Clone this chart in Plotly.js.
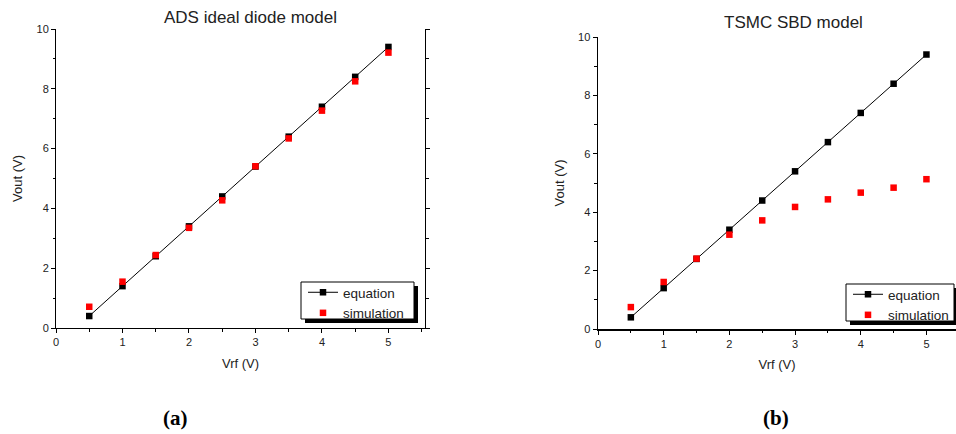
<!DOCTYPE html>
<html>
<head>
<meta charset="utf-8">
<script src="https://cdn.plot.ly/plotly-3.0.1.min.js"></script>
<style>html,body{margin:0;padding:0;background:#fff;}#chart{width:956px;height:434px;}</style>
</head>
<body>
<div id="chart"></div>
<script>
// Data
const vrf = [0.5, 1, 1.5, 2, 2.5, 3, 3.5, 4, 4.5, 5];
const eqA = [0.4, 1.4, 2.4, 3.4, 4.4, 5.4, 6.4, 7.4, 8.4, 9.4];
const simA = [0.71, 1.55, 2.44, 3.35, 4.27, 5.41, 6.34, 7.27, 8.25, 9.21];
const eqB = [0.4, 1.4, 2.4, 3.4, 4.4, 5.4, 6.4, 7.4, 8.4, 9.4];
const simB = [0.75, 1.61, 2.41, 3.23, 3.72, 4.18, 4.44, 4.67, 4.84, 5.13];
const titleA = "ADS ideal diode model";
const titleB = "TSMC SBD model";
const xTitle = "Vrf (V)";
const yTitle = "Vout (V)";
const seriesNames = ["equation", "simulation"];
const panelLabels = ["(a)", "(b)"];

const W = 956, H = 434;
const px = v => v / W;
const py = v => (H - v) / H;
const FONT = "Liberation Sans, Arial, sans-serif";
const TXT = "#222";

const mk = (c) => ({symbol: "square", size: 6.5, color: c, line: {width: 0}});

const traces = [
  {x: vrf, y: eqA, name: seriesNames[0], mode: "lines+markers", xaxis: "x", yaxis: "y",
   line: {color: "#000", width: 1}, marker: mk("#000"), legend: "legend"},
  {x: vrf, y: simA, name: seriesNames[1], mode: "markers", xaxis: "x", yaxis: "y",
   marker: mk("#ff0000"), legend: "legend"},
  {x: vrf, y: eqB, name: seriesNames[0], mode: "lines+markers", xaxis: "x2", yaxis: "y2",
   line: {color: "#000", width: 1}, marker: mk("#000"), legend: "legend2"},
  {x: vrf, y: simB, name: seriesNames[1], mode: "markers", xaxis: "x2", yaxis: "y2",
   marker: mk("#ff0000"), legend: "legend2"}
];

function xAx(domain, range, lw, anchor) {
  return {
    domain: domain, range: range, anchor: anchor, showgrid: false, zeroline: false,
    showline: true, linecolor: "#000", linewidth: lw,
    ticks: "outside", ticklen: 4, tickwidth: 1, tickcolor: "#000",
    tick0: 0, dtick: 1, tickfont: {family: FONT, size: 11, color: TXT},
    minor: {dtick: 0.5, ticks: "outside", ticklen: 2.5, tickcolor: "#000"},
    title: {text: xTitle, font: {family: FONT, size: 13, color: TXT}, standoff: 11},
    automargin: false, fixedrange: true
  };
}
function yAx(domain, lw, anchor, mirror) {
  return {
    domain: domain, range: [0, 10], anchor: anchor, showgrid: false, zeroline: false,
    showline: true, linecolor: "#000", linewidth: lw, mirror: mirror,
    ticks: "outside", ticklen: 4, tickwidth: 1, tickcolor: "#000",
    tick0: 0, dtick: 2, tickfont: {family: FONT, size: 11, color: TXT},
    minor: {dtick: 1, ticks: "outside", ticklen: 2.5, tickcolor: "#000"},
    title: {text: yTitle, font: {family: FONT, size: 13, color: TXT}, standoff: 10},
    automargin: false, fixedrange: true
  };
}
function topAx(over, range, lw) {
  return {
    overlaying: over, side: "top", range: range, showgrid: false, zeroline: false,
    showline: true, linecolor: "#000", linewidth: lw,
    ticks: "inside", ticklen: 4, tickcolor: "#000", tick0: 0, dtick: 1,
    minor: {dtick: 0.5, ticks: "inside", ticklen: 2.5, tickcolor: "#000"},
    showticklabels: false, fixedrange: true
  };
}

const dA = [px(56), px(425)], dAy = [py(328), py(29)];
const dB = [px(598), 1], dBy = [py(329), py(37)];
const rA = [0, 5.55], rB = [0, 5.45];

function legendAt(x, y) {
  return {x: px(x), y: py(y), xanchor: "left", yanchor: "top", bgcolor: "rgba(0,0,0,0)",
    borderwidth: 0, font: {family: FONT, size: 13.5, color: TXT}, tracegroupgap: 0};
}

const shapes = [];
function legendBox(x0, y0, x1, y1) {
  shapes.push({type: "rect", xref: "paper", yref: "paper", x0: px(x0 + 4), x1: px(x1 + 4), y0: py(y1 + 4), y1: py(y0 + 4),
    fillcolor: "#000", line: {width: 0}, layer: "above"});
  shapes.push({type: "rect", xref: "paper", yref: "paper", x0: px(x0), x1: px(x1), y0: py(y1), y1: py(y0),
    fillcolor: "#fff", line: {color: "#000", width: 1}, layer: "above"});
}
legendBox(301, 282, 414, 319);
legendBox(846, 284, 954, 321);

const ann = (t, x, y, f) => ({text: t, x: px(x), y: py(y), xref: "paper", yref: "paper",
  xanchor: "center", yanchor: "middle", showarrow: false, font: f});

const layout = {
  width: W, height: H, margin: {l: 0, r: 0, t: 0, b: 0},
  paper_bgcolor: "#fff", plot_bgcolor: "#fff", showlegend: true,
  xaxis: xAx(dA, rA, 1, "y"),
  yaxis: yAx(dAy, 1, "x", "ticks"),
  xaxis2: xAx(dB, rB, 1.5, "y2"),
  yaxis2: yAx(dBy, 1.5, "x2", false),
  xaxis3: topAx("x", rA, 1),
  xaxis4: topAx("x2", rB, 1.5),
  legend: legendAt(303, 277),
  legend2: legendAt(848, 279),
  shapes: shapes,
  annotations: [
    ann(titleA, 250, 17, {family: FONT, size: 17, color: TXT}),
    ann(titleB, 793, 22, {family: FONT, size: 17, color: TXT}),
    ann(panelLabels[0], 175, 418, {family: "Liberation Serif, Times New Roman, serif", size: 21, color: "#000", weight: "bold"}),
    ann(panelLabels[1], 776, 418, {family: "Liberation Serif, Times New Roman, serif", size: 21, color: "#000", weight: "bold"})
  ]
};

Plotly.newPlot("chart", traces, layout, {staticPlot: true, displayModeBar: false});
</script>
</body>
</html>
